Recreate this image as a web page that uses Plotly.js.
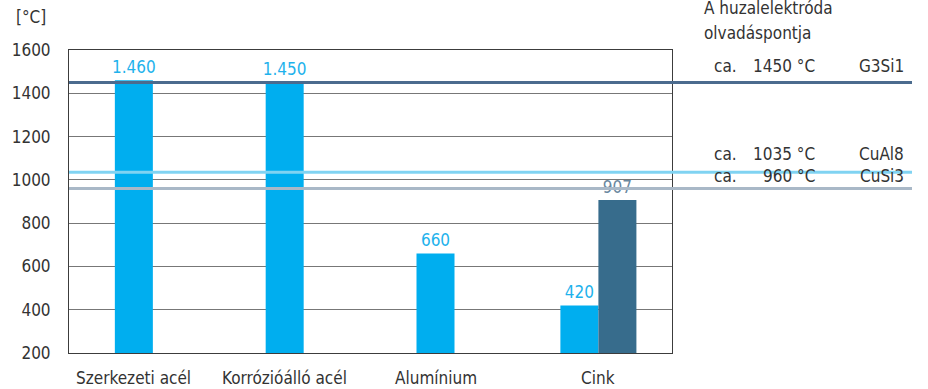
<!DOCTYPE html>
<html>
<head>
<meta charset="utf-8">
<script src="https://cdn.plot.ly/plotly-3.0.1.min.js"></script>
<style>
  html, body { margin: 0; padding: 0; background: #fff; }
  #chart { width: 928px; height: 389px; }
</style>
</head>
<body>
<div id="chart"></div>
<script>
// Melting points of base metals vs. wire electrodes
const categories = ['Szerkezeti acél', 'Korrózióálló acél', 'Alumínium', 'Cink'];
const baseMelt = [1460, 1450, 660, 420];
const zincBoil = [907];
const zincBoilCat = ['Cink'];

const wireNames = ['G3Si1', 'CuAl8', 'CuSi3'];
const wireMelt = [1450, 1035, 960];
const wireColors = ['#4b6b8e', '#80d3f2', '#a9b8c7'];
const wireLabelY = [0.946, 0.658, 0.583];

const FONT = 'DejaVu Sans Condensed, Liberation Sans Narrow, sans-serif';
const TXT = '#333333';
const CYAN = '#00aeef';
const DARK = '#376c8c';

const barW = 0.252;

const traces = [
  {
    type: 'bar',
    x: categories,
    y: baseMelt,
    width: barW,
    offset: [-0.126, -0.126, -0.126, -0.172],
    marker: { color: CYAN },
    texttemplate: '%{y:,}',
    textposition: 'outside',
    constraintext: 'none',
    textfont: { family: FONT, size: 17, color: '#1eb2ec' },
    cliponaxis: false,
    hoverinfo: 'skip'
  },
  {
    type: 'bar',
    x: zincBoilCat,
    y: zincBoil,
    width: barW,
    offset: 0.08,
    marker: { color: DARK },
    texttemplate: '%{y:,}',
    textposition: 'outside',
    constraintext: 'none',
    textfont: { family: FONT, size: 17, color: '#6a88a0' },
    cliponaxis: false,
    hoverinfo: 'skip'
  }
];

// reference lines for the wire electrodes, running out into the right-hand legend
const shapes = wireMelt.map((v, i) => ({
  type: 'line', xref: 'paper', yref: 'y',
  x0: 0, x1: 1.398, y0: v, y1: v,
  line: { color: wireColors[i], width: 3 },
  layer: 'above'
}));

const annotations = [];
// category labels under the axis
const labelShift = [0, 0, 0, 12];
categories.forEach((c, i) => {
  annotations.push({
    xref: 'x', yref: 'paper', x: c, y: 0, yanchor: 'top', yshift: -13,
    xshift: labelShift[i], showarrow: false, text: c,
    font: { family: FONT, size: 17, color: TXT }
  });
});
// unit label
annotations.push({
  xref: 'paper', yref: 'paper', x: -0.092, y: 1.11, xanchor: 'left', yanchor: 'middle',
  showarrow: false, text: '[°C]', font: { family: FONT, size: 17, color: TXT }
});
// legend header
annotations.push({
  xref: 'paper', yref: 'paper', x: 1.05, y: 1.137, xanchor: 'left', yanchor: 'middle',
  showarrow: false, text: 'A huzalelektróda', font: { family: FONT, size: 17, color: TXT }
});
annotations.push({
  xref: 'paper', yref: 'paper', x: 1.05, y: 1.057, xanchor: 'left', yanchor: 'middle',
  showarrow: false, text: 'olvadáspontja', font: { family: FONT, size: 17, color: TXT }
});
wireNames.forEach((n, i) => {
  const y = wireLabelY[i];
  annotations.push({
    xref: 'paper', yref: 'paper', x: 1.067, y: y, xanchor: 'left', yanchor: 'middle',
    showarrow: false, text: 'ca.', font: { family: FONT, size: 17, color: TXT }
  });
  annotations.push({
    xref: 'paper', yref: 'paper', x: 1.2407, y: y, xanchor: 'right', yanchor: 'middle',
    showarrow: false, text: wireMelt[i] + ' °C', font: { family: FONT, size: 17, color: TXT }
  });
  annotations.push({
    xref: 'paper', yref: 'paper', x: 1.388, y: y, xanchor: 'right', yanchor: 'middle',
    showarrow: false, text: n, font: { family: FONT, size: 17, color: TXT }
  });
});

const layout = {
  width: 928, height: 389,
  margin: { l: 69, r: 256, t: 50, b: 36, pad: 0 },
  paper_bgcolor: '#ffffff', plot_bgcolor: '#ffffff',
  separators: ',.',
  showlegend: false,
  barmode: 'overlay',
  font: { family: FONT, size: 17, color: TXT },
  xaxis: {
    type: 'category',
    range: [-0.43, 3.568],
    showticklabels: false, ticks: '',
    showgrid: false, zeroline: false,
    showline: true, mirror: true, linecolor: '#3c3c3c', linewidth: 1
  },
  yaxis: {
    range: [200, 1600],
    tickvals: [200, 400, 600, 800, 1000, 1200, 1400, 1600],
    ticks: '', ticklabelstandoff: 14,
    tickfont: { family: FONT, size: 17, color: TXT },
    showgrid: true, gridcolor: '#777777', gridwidth: 1,
    zeroline: false,
    showline: true, mirror: true, linecolor: '#3c3c3c', linewidth: 1
  },
  shapes: shapes,
  annotations: annotations
};

Plotly.newPlot('chart', traces, layout, { staticPlot: true, displayModeBar: false });
</script>
</body>
</html>
